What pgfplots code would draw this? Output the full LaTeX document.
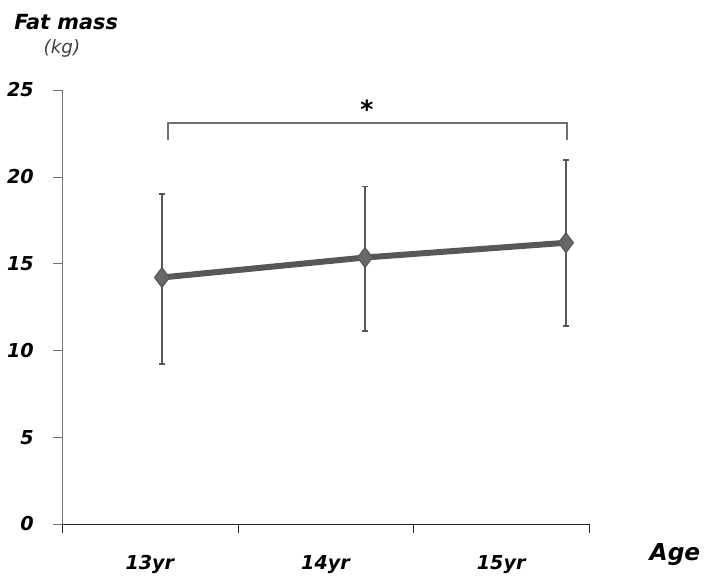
\documentclass[border=0pt]{standalone}
\usepackage{fontspec}
\setmainfont{DejaVu Sans}
\usepackage{pgfplots}
\pgfplotsset{compat=1.18}
\definecolor{linegray}{HTML}{575757}
\definecolor{axgray}{HTML}{707070}
\begin{document}
\begin{tikzpicture}[x=1pt,y=1pt]
% canvas: 1 px of the reference = 0.6pt, axis origin at (62,524) px
\useasboundingbox (-37.2,-35.4) rectangle (385.2,314.4);
\begin{axis}[
  at={(0,0)}, anchor=origin,
  scale only axis, width=316.2pt, height=260.4pt,
  xmin=0, xmax=3, ymin=0, ymax=25,
  axis x line*=bottom, axis y line*=left,
  x axis line style={black!85}, y axis line style={axgray},
  xtick={0.5,1.5,2.5}, xticklabels={13yr,14yr,15yr},
  major x tick style={draw=none},
  minor xtick={0,1,2,3}, minor x tick style={black!85},
  minor tick length=5.4pt,
  ytick={0,5,10,15,20,25}, major tick length=5.4pt,
  y tick style={axgray},
  tick align=outside,
  tick label style={font=\bfseries\itshape\fontsize{11.5}{12}\selectfont},
  /pgf/number format/assume math mode=true,
  xticklabel style={yshift=-10pt},
  yticklabel style={xshift=-8pt},
  clip=false,
]
\addplot[draw=none, mark=none,
  error bars/.cd, y dir=both, y explicit,
  error bar style={linegray, line width=0.9pt},
  error mark=|,
  error mark options={linegray, line width=1pt, mark size=2pt}]
  coordinates {(0.569,14.2) += (0,4.8) -= (0,5.0)
               (1.725,15.35) += (0,4.1) -= (0,4.25)
               (2.869,16.2) += (0,4.75) -= (0,4.8)};
\addplot[linegray, line width=3.6pt, mark=diamond*, mark size=6pt,
  mark options={fill=linegray!90, draw=linegray, line width=0.6pt}]
  coordinates {(0.569,14.2) (1.725,15.35) (2.869,16.2)};
\draw[axgray, line width=0.9pt] (axis cs:0.603,22.1) -- (axis cs:0.603,23.1)
  -- (axis cs:2.875,23.1) -- (axis cs:2.875,22.1);
\node[font=\bfseries\fontsize{15}{15}\selectfont] at (axis cs:1.736,23.9) {*};
\end{axis}
\node[anchor=west, inner sep=0pt, font=\bfseries\itshape\fontsize{12.5}{14}\selectfont] at (-28.8,301.2) {Fat mass};
\node[font=\itshape\fontsize{11}{12}\selectfont, text=black!75] at (0,285.6) {(kg)};
\node[font=\bfseries\itshape\fontsize{14}{15}\selectfont] at (367.8,-18.6) {Age};
\end{tikzpicture}
\end{document}
